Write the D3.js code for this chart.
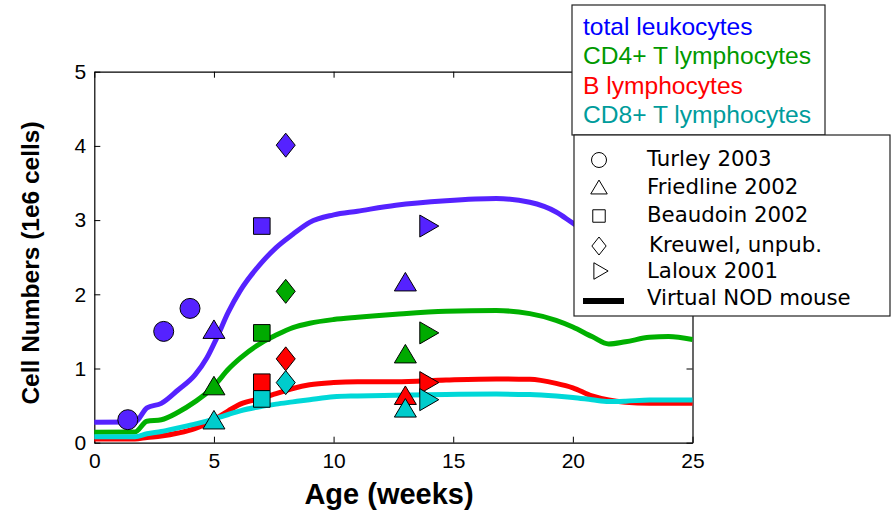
<!DOCTYPE html>
<html>
<head>
<meta charset="utf-8">
<script src="https://cdn.jsdelivr.net/npm/d3@7"></script>
<style>
  html, body { margin: 0; padding: 0; background: #fff; }
  svg { display: block; }
</style>
</head>
<body>
<svg id="chart" width="892" height="519"></svg>
<script>
// ---------- data ----------
const curveAges = [0, 1.7, 2.2, 2.8, 3.5, 4.2, 4.7, 5.1, 5.6, 6.1, 7, 7.6, 8.3, 9, 10, 11, 12.6, 14.7, 16.8, 18.2, 19.3, 20, 20.8, 21.5, 22.2, 23.2, 24, 25];
const curveTotal = [0.275, 0.28, 0.47, 0.53, 0.71, 0.91, 1.14, 1.40, 1.76, 2.05, 2.43, 2.63, 2.81, 2.97, 3.07, 3.12, 3.20, 3.26, 3.29, 3.24, 3.11, 2.96, 2.80, 2.70, 2.65, 2.65, 2.62, 2.60];
const curveCD4   = [0.14, 0.145, 0.29, 0.31, 0.41, 0.55, 0.67, 0.80, 0.99, 1.14, 1.35, 1.45, 1.55, 1.61, 1.66, 1.69, 1.73, 1.77, 1.78, 1.74, 1.65, 1.56, 1.43, 1.33, 1.36, 1.42, 1.43, 1.39];
const curveB     = [0.05, 0.05, 0.07, 0.09, 0.13, 0.19, 0.26, 0.33, 0.43, 0.52, 0.60, 0.66, 0.73, 0.78, 0.81, 0.82, 0.82, 0.845, 0.86, 0.855, 0.80, 0.74, 0.63, 0.575, 0.545, 0.53, 0.53, 0.53];
const curveCD8   = [0.08, 0.08, 0.12, 0.15, 0.20, 0.25, 0.29, 0.33, 0.38, 0.43, 0.49, 0.52, 0.55, 0.58, 0.62, 0.63, 0.64, 0.65, 0.655, 0.65, 0.63, 0.61, 0.58, 0.555, 0.56, 0.575, 0.575, 0.575];

const seriesNames = ["total leukocytes", "CD4+ T lymphocytes", "B lymphocytes", "CD8+ T lymphocytes"];
const studyNames = ["Turley 2003", "Friedline 2002", "Beaudoin 2002", "Kreuwel, unpub.", "Laloux 2001"];
const modelName = "Virtual NOD mouse";

// observations: [study index, age (weeks), value]
const obsTotal = [[0, 1.4, 0.31], [0, 2.9, 1.50], [0, 4.0, 1.81], [1, 5, 1.53], [1, 13, 2.17], [2, 7, 2.92], [3, 8, 4.01], [4, 14, 2.92]];
const obsCD4   = [[1, 5, 0.77], [1, 13, 1.20], [2, 7, 1.48], [3, 8, 2.04], [4, 14, 1.48]];
const obsB     = [[1, 13, 0.64], [2, 7, 0.815], [3, 8, 1.13], [4, 14, 0.81]];
const obsCD8   = [[1, 5, 0.31], [1, 13, 0.47], [2, 7, 0.59], [3, 8, 0.81], [4, 14, 0.58]];

const xTicks = [0, 5, 10, 15, 20, 25];
const yTicks = [0, 1, 2, 3, 4, 5];

// ---------- styles ----------
const lineColors   = ["#5522ff", "#00b000", "#ff0000", "#00d8d8"];
const markerColors = ["#5522ff", "#00aa00", "#ff0000", "#00cccc"];
const textColors   = ["#0000ff", "#009900", "#ff0000", "#009c9c"];

const svg = d3.select("#chart");
const x = d3.scaleLinear().domain([0, 25]).range([94.3, 692.5]);
const y = d3.scaleLinear().domain([0, 5]).range([442.7, 71.7]);

// marker shape paths (centred on bbox)
function shapePath(kind, s) {
  const p = d3.path();
  if (kind === 0) { const r = 10 * s; p.arc(0, 0, r, 0, 2 * Math.PI); }
  else if (kind === 1) { const w = 11 * s, h = 9.25 * s; p.moveTo(0, -h); p.lineTo(w, h); p.lineTo(-w, h); p.closePath(); }
  else if (kind === 2) { const a = 8.3 * s; p.rect(-a, -a, 2 * a, 2 * a); }
  else if (kind === 3) { const w = 9.5 * s, h = 12 * s; p.moveTo(0, -h); p.lineTo(w, 0); p.lineTo(0, h); p.lineTo(-w, 0); p.closePath(); }
  else { const w = 9.5 * s, h = 11 * s; p.moveTo(-w, -h); p.lineTo(w, 0); p.lineTo(-w, h); p.closePath(); }
  return p.toString();
}

// ---------- axes ----------
const font = "'Liberation Sans', Arial, sans-serif";
const fmt = d3.format("d");
const gx = svg.append("g").attr("transform", `translate(0,${y(0)})`)
  .call(d3.axisBottom(x).tickValues(xTicks).tickFormat(fmt).tickSizeInner(-6).tickSizeOuter(0).tickPadding(10));
const gy = svg.append("g").attr("transform", `translate(${x(0)},0)`)
  .call(d3.axisLeft(y).tickValues(yTicks).tickFormat(fmt).tickSizeInner(-6).tickSizeOuter(0).tickPadding(8));
const gt = svg.append("g").attr("transform", `translate(0,${y(5)})`)
  .call(d3.axisTop(x).tickValues(xTicks).tickSizeInner(-6).tickSizeOuter(0).tickFormat(""));
const gr = svg.append("g").attr("transform", `translate(${x(25)},0)`)
  .call(d3.axisRight(y).tickValues(yTicks).tickSizeInner(-6).tickSizeOuter(0).tickFormat(""));
[gx, gy, gt, gr].forEach(g => {
  g.selectAll("path.domain").attr("stroke", "#000").attr("stroke-width", 1.2);
  g.selectAll("line").attr("stroke", "#000").attr("stroke-width", 1);
  g.selectAll("text").attr("font-family", font).attr("font-size", 21).attr("fill", "#000");
});

svg.append("text").attr("x", 389).attr("y", 504).attr("text-anchor", "middle")
  .attr("font-family", font).attr("font-weight", "bold").attr("font-size", 29)
  .text("Age (weeks)");
svg.append("text").attr("transform", "translate(39,263) rotate(-90)").attr("text-anchor", "middle")
  .attr("font-family", font).attr("font-weight", "bold").attr("font-size", 24.5)
  .text("Cell Numbers (1e6 cells)");

// ---------- model curves ----------
const curves = [curveTotal, curveCD4, curveB, curveCD8];
const line = d3.line().x((d, i) => x(curveAges[i])).y(d => y(d)).curve(d3.curveMonotoneX);
curves.forEach((c, k) => {
  svg.append("path").datum(c).attr("d", line)
    .attr("fill", "none").attr("stroke", lineColors[k]).attr("stroke-width", 5)
    .attr("stroke-linejoin", "round");
});

// ---------- observations ----------
const obs = [obsTotal, obsCD4, obsB, obsCD8];
obs.forEach((arr, k) => {
  svg.append("g").selectAll("path").data(arr).join("path")
    .attr("transform", d => `translate(${x(d[1])},${y(d[2])})`)
    .attr("d", d => shapePath(d[0], 1))
    .attr("fill", markerColors[k]).attr("stroke", "#000").attr("stroke-width", 1);
});

// ---------- legend 1 (series colours) ----------
const l1 = svg.append("g");
l1.append("rect").attr("x", 572).attr("y", 5).attr("width", 253).attr("height", 130)
  .attr("fill", "#fff").attr("stroke", "#222").attr("stroke-width", 1.2);
l1.selectAll("text").data(seriesNames).join("text")
  .attr("x", 583).attr("y", (d, i) => 35 + i * 29.4)
  .attr("font-family", font).attr("font-size", 24.6)
  .attr("fill", (d, i) => textColors[i]).text(d => d);

// ---------- legend 2 (studies) ----------
const l2 = svg.append("g");
l2.append("rect").attr("x", 574).attr("y", 135).attr("width", 316).attr("height", 181)
  .attr("fill", "#fff").attr("stroke", "#222").attr("stroke-width", 1.2);
const symY = [160, 187, 216, 246, 271];
const txtY = [166, 194, 222, 252, 278, 305];
l2.selectAll("path.sym").data(studyNames).join("path").attr("class", "sym")
  .attr("transform", (d, i) => `translate(${599 + (i === 4 ? 2 : 0)},${symY[i]})`)
  .attr("d", (d, i) => shapePath(i, 0.75))
  .attr("fill", "none").attr("stroke", "#000").attr("stroke-width", 1);
l2.append("line").attr("x1", 583).attr("x2", 624).attr("y1", 301).attr("y2", 301)
  .attr("stroke", "#000").attr("stroke-width", 6);
l2.selectAll("text").data(studyNames.concat([modelName])).join("text")
  .attr("x", (d, i) => i === 3 ? 649 : 647).attr("y", (d, i) => txtY[i])
  .attr("font-family", "'DejaVu Sans', Verdana, sans-serif").attr("font-size", 21.3)
  .attr("fill", "#000").text(d => d);
</script>
</body>
</html>
